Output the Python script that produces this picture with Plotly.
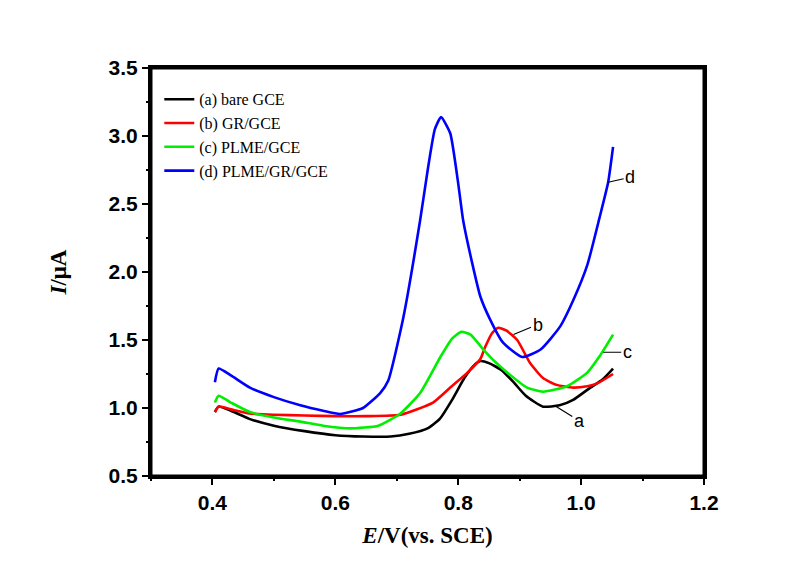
import plotly.graph_objects as go

# ---- data ----
E_a = [0.404, 0.41, 0.43, 0.46, 0.50, 0.55, 0.60, 0.645, 0.69, 0.72, 0.75, 0.77, 0.79, 0.81, 0.825, 0.836, 0.85, 0.87, 0.89, 0.91, 0.938, 0.965, 0.987, 1.015, 1.035, 1.052]
I_a = [0.97, 1.01, 0.98, 0.92, 0.87, 0.83, 0.80, 0.79, 0.79, 0.81, 0.85, 0.92, 1.06, 1.22, 1.31, 1.345, 1.33, 1.28, 1.19, 1.09, 1.01, 1.02, 1.06, 1.15, 1.21, 1.29]

E_b = [0.404, 0.41, 0.43, 0.46, 0.50, 0.55, 0.60, 0.65, 0.706, 0.759, 0.787, 0.815, 0.836, 0.844, 0.855, 0.865, 0.878, 0.896, 0.917, 0.938, 0.96, 0.987, 1.01, 1.026, 1.052]
I_b = [0.97, 1.01, 0.99, 0.96, 0.95, 0.945, 0.94, 0.94, 0.95, 1.04, 1.15, 1.26, 1.36, 1.45, 1.55, 1.59, 1.57, 1.50, 1.33, 1.22, 1.17, 1.15, 1.16, 1.18, 1.25]

E_c = [0.404, 0.41, 0.43, 0.461, 0.50, 0.543, 0.58, 0.624, 0.67, 0.706, 0.738, 0.771, 0.79, 0.805, 0.82, 0.841, 0.86, 0.88, 0.912, 0.938, 0.977, 1.01, 1.03, 1.052]
I_c = [1.04, 1.09, 1.04, 0.97, 0.93, 0.90, 0.87, 0.85, 0.87, 0.96, 1.11, 1.375, 1.51, 1.56, 1.54, 1.43, 1.34, 1.26, 1.15, 1.12, 1.16, 1.26, 1.38, 1.54]

E_d = [0.404, 0.41, 0.43, 0.461, 0.50, 0.543, 0.58, 0.608, 0.645, 0.673, 0.686, 0.71, 0.738, 0.751, 0.762, 0.772, 0.787, 0.80, 0.808, 0.822, 0.836, 0.852, 0.873, 0.904, 0.934, 0.966, 0.987, 1.01, 1.03, 1.044, 1.052]
I_d = [1.19, 1.29, 1.24, 1.15, 1.08, 1.02, 0.98, 0.956, 1.0, 1.11, 1.20, 1.65, 2.38, 2.77, 3.05, 3.14, 3.02, 2.65, 2.38, 2.08, 1.82, 1.65, 1.48, 1.375, 1.43, 1.60, 1.79, 2.05, 2.40, 2.66, 2.92]

names = ["(a) bare GCE", "(b) GR/GCE", "(c) PLME/GCE", "(d) PLME/GR/GCE"]
colors = ["#000000", "#ff0000", "#00ee00", "#0000ff"]

label_text = ["a", "b", "c", "d"]
label_E = [0.958, 0.89, 1.036, 1.044]
label_I = [1.015, 1.54, 1.41, 2.66]
label_dx = [24, 24, 24, 22]
label_dy = [15, -10, 0, -5]

fig = go.Figure()
for E, I, n, c in zip([E_a, E_b, E_c, E_d], [I_a, I_b, I_c, I_d], names, colors):
    fig.add_trace(go.Scatter(x=E, y=I, mode="lines", name=n,
                             line=dict(color=c, width=2.6, shape="spline", smoothing=0.5)))

# invisible trace on overlay axes that carry the minor ticks
fig.add_trace(go.Scatter(x=E_a, y=I_a, mode="lines", xaxis="x2", yaxis="y2",
                         line=dict(width=0), opacity=0, showlegend=False, hoverinfo="skip"))

for t, xe, yi, dx, dy in zip(label_text, label_E, label_I, label_dx, label_dy):
    fig.add_annotation(x=xe, y=yi, text=t, showarrow=True, arrowhead=0, arrowwidth=1.2,
                       arrowcolor="black", ax=dx, ay=dy,
                       font=dict(family="Liberation Sans", size=18, color="black"))

# frame drawn as four separate paper-referenced lines
for x0, y0, x1, y1 in [(0, 0, 1, 0), (0, 1, 1, 1), (0, 0, 0, 1), (1, 0, 1, 1)]:
    fig.add_shape(type="line", xref="paper", yref="paper", x0=x0, y0=y0, x1=x1, y1=y1,
                  line=dict(color="black", width=3))

axis_common = dict(showline=True, linecolor="black", linewidth=3, mirror=True,
                   ticks="outside", ticklen=6, tickwidth=2, tickcolor="black",
                   showgrid=False, zeroline=False, tickformat=".1f",
                   tickfont=dict(family="Liberation Sans", size=21, color="black", weight="bold"))

fig.update_layout(
    xaxis=dict(range=[0.3, 1.2], tickmode="linear", tick0=0.4, dtick=0.2,
               title=dict(text="<b><i>E</i>/V(vs. SCE)</b>", standoff=14,
                          font=dict(family="Liberation Serif", size=23, color="black")),
               **axis_common),
    yaxis=dict(range=[0.5, 3.5], tickmode="linear", tick0=0.5, dtick=0.5,
               title=dict(text="<b><i>I</i>/μA</b>", standoff=36,
                          font=dict(family="Liberation Serif", size=23, color="black")),
               **axis_common),
    xaxis2=dict(overlaying="x", anchor="y2", side="bottom", range=[0.3, 1.2],
                tickmode="linear", tick0=0.3, dtick=0.1, ticks="outside", ticklen=4,
                tickwidth=2, tickcolor="black", showticklabels=False, showline=False,
                showgrid=False, zeroline=False),
    yaxis2=dict(overlaying="y", anchor="x2", side="left", range=[0.5, 3.5],
                tickmode="linear", tick0=0.5, dtick=0.25, ticks="outside", ticklen=4,
                tickwidth=2, tickcolor="black", showticklabels=False, showline=False,
                showgrid=False, zeroline=False),
    width=804, height=564,
    margin=dict(l=143, r=108, t=60, b=96),
    paper_bgcolor="white", plot_bgcolor="white",
    showlegend=True,
    legend=dict(x=0.015, y=0.965, xanchor="left", yanchor="top",
                bgcolor="rgba(0,0,0,0)",
                font=dict(family="Liberation Serif", size=16, color="black")),
)

fig.write_html("out.html")
